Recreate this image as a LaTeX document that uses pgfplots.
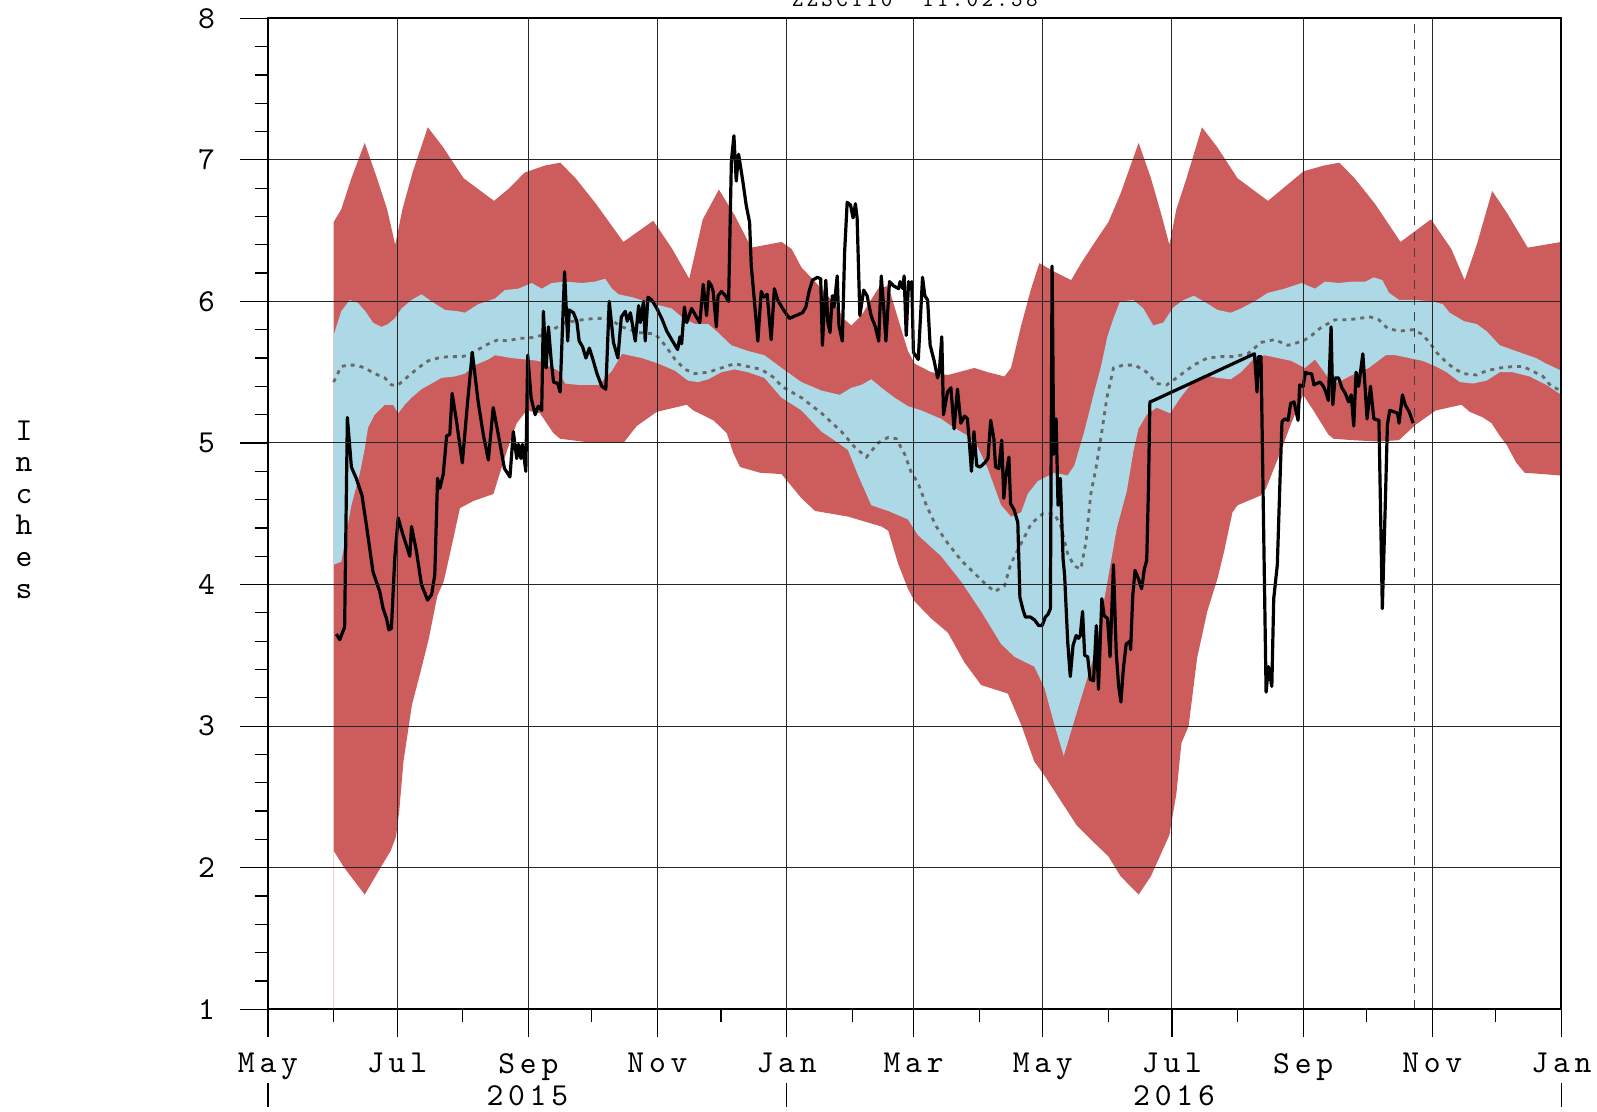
\documentclass[border=0pt]{standalone}
\usepackage{fontspec}
\setmonofont{lmmono10-regular.otf}[LetterSpace=15]
\usepackage{pgfplots}
\pgfplotsset{compat=1.18}
\usepgfplotslibrary{fillbetween}
\definecolor{bandred}{RGB}{205,92,92}
\definecolor{bandblue}{RGB}{173,216,230}
\definecolor{medgray}{RGB}{105,105,105}
\newcommand\tf{\ttfamily\fontsize{16}{15.8}\selectfont}
\begin{document}
\begin{tikzpicture}
\begin{axis}[
  scale only axis, width=646.75pt, height=495.5pt,
  xmin=0, xmax=611, ymin=1, ymax=8, clip=false,
  axis on top,
  xtick={0,61,123,184,245,305,366,427,489,550,611},
  xticklabels={May,Jul,Sep,Nov,Jan,Mar,May,Jul,Sep,Nov,Jan},
  minor xtick={31,92,153,214,276,336,397,458,519,580},
  ytick={1,2,3,4,5,6,7,8},
  minor y tick num=4,
  xmajorgrids, ymajorgrids,
  grid style={black!85, line width=0.5pt},
  tick align=outside, xtick pos=bottom, ytick pos=left,
  major tick length=14pt, minor tick length=6.5pt,
  tick style={black, line width=0.6pt},
  axis line style={black, line width=1pt},
  /pgf/number format/assume math mode=true,
  ticklabel style={font=\tf},
  xticklabel style={yshift=-4.5pt},
  yticklabel style={xshift=-9pt},
]
% red band
\addplot[name path=ru, draw=none] coordinates {
(31,6.56)(34.6,6.65)(39.4,6.87)(45.7,7.12)(51.5,6.87)(56.3,6.65)(60.1,6.40)(63.5,6.65)(68.3,6.91)(75.5,7.23)(82.7,7.09)(92.4,6.87)(106.8,6.71)(114,6.80)(121.2,6.91)(130.9,6.96)(138.1,6.98)(145.3,6.87)(154.9,6.69)(167.9,6.42)(182,6.57)(191,6.37)(199,6.16)(205.4,6.58)(213,6.79)(220.4,6.61)(228.3,6.38)(242.6,6.42)(247.4,6.37)(252,6.24)(258.4,6.14)(266.2,6.01)(272.5,5.87)(275.6,5.83)(280.3,5.90)(288.2,6.09)(293,6.11)(297.6,5.88)(302.3,5.65)(305.5,5.56)(313.3,5.50)(321.2,5.48)(333.7,5.53)(340,5.50)(347.9,5.47)(351,5.53)(355.8,5.83)(360.5,6.09)(364.4,6.27)(371.5,6.21)(379.4,6.15)(384.1,6.27)(392,6.45)(397,6.56)(402.7,6.76)(411.3,7.12)(417.1,6.87)(421.9,6.62)(425.8,6.40)(429.1,6.65)(433.9,6.87)(441.2,7.23)(448.4,7.09)(458,6.87)(472.4,6.71)(479.6,6.80)(489.3,6.92)(498.9,6.96)(506.1,6.98)(513.3,6.87)(522.9,6.69)(535,6.42)(549.4,6.58)(559,6.37)(565.3,6.15)(571,6.40)(578.3,6.78)(585.5,6.62)(595.1,6.38)(611,6.42)};
\addplot[name path=rl, draw=none] coordinates {
(31,2.12)(36,2.00)(45.7,1.81)(52,1.97)(58,2.12)(60.5,2.22)(62,2.40)(64,2.75)(68,3.15)(72,3.38)(76,3.62)(80,3.92)(83,4.02)(86,4.22)(90.7,4.54)(97,4.59)(106.5,4.64)(109.6,4.79)(113,4.95)(117.5,5.14)(122.2,5.23)(128.5,5.21)(134.8,5.07)(138,5.03)(153.7,5.00)(167.9,5.00)(174.2,5.12)(183.7,5.22)(197.8,5.27)(200.9,5.23)(210.4,5.16)(216.7,5.07)(219.8,4.93)(223,4.83)(232.4,4.79)(242.6,4.78)(252,4.61)(258.4,4.52)(274,4.48)(289.8,4.41)(293,4.38)(297.6,4.15)(302.3,3.97)(305.5,3.88)(313.3,3.76)(321.2,3.66)(329,3.45)(336.9,3.29)(349.5,3.23)(355.8,3.01)(362,2.75)(366.8,2.65)(374.6,2.47)(382,2.30)(390,2.18)(397,2.08)(402.7,1.94)(411.3,1.81)(417.1,1.94)(425.8,2.23)(429.1,2.52)(431.5,2.88)(434.9,3.00)(438.9,3.48)(443.7,3.81)(448.5,4.04)(451.6,4.23)(455.6,4.51)(458,4.56)(469.1,4.63)(471.5,4.68)(477.1,4.89)(483.4,5.14)(489,5.34)(493,5.25)(500.9,5.06)(503.3,5.03)(512.1,5.02)(524.8,5.01)(534.3,5.02)(542.2,5.13)(551.7,5.23)(563.8,5.27)(567.7,5.22)(574,5.18)(578,5.14)(581.9,5.05)(585,4.99)(589.7,4.86)(593.6,4.79)(611,4.77)};
\addplot[bandred, draw=none] fill between[of=ru and rl];
% blue band
\addplot[name path=bu, draw=none] coordinates {
(31,5.76)(34.6,5.93)(38.6,6.01)(42.5,5.99)(46.5,5.92)(49.6,5.85)(53.6,5.82)(56.7,5.84)(59.9,5.88)(63.1,5.95)(67.8,6.01)(72.5,6.05)(77.3,6.00)(83.6,5.94)(89.9,5.93)(93,5.92)(99.3,5.98)(107.2,6.02)(111.9,6.08)(118.3,6.09)(124.6,6.13)(129.3,6.09)(134.1,6.13)(140.4,6.14)(148.3,6.13)(154.6,6.14)(159.3,6.16)(162.5,6.09)(165.6,6.05)(171.9,6.03)(182.9,5.98)(190.7,5.95)(196.2,5.88)(201.7,5.84)(208,5.84)(212.6,5.78)(218.9,5.69)(226.7,5.65)(234.5,5.62)(242.6,5.53)(252,5.43)(261.5,5.37)(270.1,5.34)(275.6,5.39)(280.3,5.41)(285,5.45)(289.8,5.39)(296,5.32)(302.3,5.26)(308.6,5.23)(318,5.17)(322.8,5.12)(330.6,5.05)(335.3,4.97)(340,4.82)(346.3,4.56)(351,4.48)(355.8,4.51)(358.9,4.64)(363.6,4.73)(371.5,4.79)(377.7,4.77)(380.9,4.84)(385.6,5.08)(390.3,5.36)(393.5,5.54)(396.5,5.75)(399.4,5.88)(402.5,6.00)(408.8,6.01)(413.5,5.95)(418.2,5.83)(422.9,5.85)(427.8,5.96)(432.6,6.01)(437.3,6.04)(442.1,6.00)(448.5,5.94)(454.8,5.92)(459.6,5.95)(466,6.00)(472.3,6.06)(480.3,6.09)(488.2,6.13)(494.6,6.09)(499.3,6.14)(505.7,6.13)(512.1,6.14)(518.4,6.14)(522.4,6.17)(526.4,6.15)(529.6,6.06)(534.3,6.01)(542.3,6.01)(550.2,6.00)(555,5.98)(558.2,5.92)(565,5.86)(571,5.84)(575.6,5.79)(581.9,5.69)(591.3,5.64)(599,5.60)(603.9,5.56)(611,5.51)};
\addplot[name path=bl, draw=none] coordinates {
(31,4.14)(34.6,4.16)(39.4,4.56)(43.3,4.78)(45.7,4.96)(47.3,5.11)(50.4,5.20)(55.2,5.27)(59.1,5.27)(61.5,5.21)(64.6,5.27)(67.8,5.32)(72.5,5.38)(77.3,5.42)(82,5.46)(88.3,5.47)(93,5.49)(97.8,5.55)(104.1,5.59)(107.2,5.62)(115.1,5.60)(121.4,5.59)(127.7,5.58)(137.2,5.51)(140.4,5.42)(146.7,5.41)(156.2,5.41)(162.5,5.51)(167.3,5.63)(176.6,5.60)(184.5,5.56)(192.3,5.51)(198.5,5.44)(203.2,5.43)(208,5.45)(214.2,5.50)(220.4,5.52)(226.7,5.50)(234.5,5.46)(242.6,5.32)(252,5.23)(261.5,5.08)(269.4,5.00)(274,4.95)(278.8,4.77)(285,4.56)(293,4.52)(302.3,4.46)(307,4.35)(318,4.20)(327.5,4.02)(336.9,3.81)(346.3,3.58)(352.6,3.49)(362,3.42)(366.8,3.27)(371.5,3.01)(375.9,2.79)(380.9,3.04)(385.6,3.27)(390.3,3.50)(396.3,4.00)(401,4.40)(405.7,4.66)(408.8,4.94)(411.2,5.10)(415.1,5.20)(419.8,5.25)(424.5,5.22)(426.2,5.21)(431,5.32)(435.7,5.41)(442.1,5.48)(448.5,5.46)(454.8,5.45)(459.6,5.50)(466,5.60)(470.7,5.62)(477.1,5.60)(483.4,5.58)(489.8,5.53)(494.6,5.59)(499,5.50)(503,5.41)(512.1,5.48)(520,5.53)(528,5.62)(532.7,5.62)(539.1,5.60)(545.5,5.58)(551.8,5.54)(556.8,5.50)(563,5.43)(569.3,5.42)(575.6,5.44)(581.9,5.50)(588,5.50)(596,5.47)(603.9,5.41)(611,5.34)};
\addplot[bandblue, draw=none] fill between[of=bu and bl];
% faint line at start
\addplot[color={rgb,255:red,240;green,205;blue,205}, line width=0.4pt] coordinates {(31,1) (31,2.12)};
% median
\addplot[medgray, line width=1.4pt, dash pattern=on 2pt off 2.5pt] coordinates {
(31,5.43)(34.6,5.54)(37.8,5.55)(41.7,5.55)(45.7,5.53)(50.4,5.49)(55.2,5.46)(58.3,5.41)(61.5,5.41)(66.2,5.47)(70.9,5.53)(75.7,5.58)(80.4,5.60)(85.1,5.61)(91.5,5.61)(94.6,5.62)(99.3,5.66)(104.1,5.70)(108.8,5.73)(113.5,5.72)(118.3,5.74)(123,5.74)(129.3,5.76)(135.6,5.81)(140.4,5.85)(148.3,5.87)(154.6,5.88)(160.9,5.88)(167.2,5.82)(175,5.78)(182.9,5.77)(187.6,5.69)(192.3,5.59)(197,5.52)(201.7,5.49)(208,5.50)(214.2,5.53)(220.4,5.56)(226.7,5.54)(233,5.52)(239.2,5.46)(242.6,5.40)(252,5.32)(261.5,5.21)(270.9,5.08)(277.2,4.97)(282.7,4.90)(288.2,5.00)(293,5.04)(296.8,5.03)(300.8,4.92)(303.9,4.79)(307,4.72)(311,4.56)(315.7,4.41)(321.2,4.29)(327.5,4.17)(333.7,4.08)(338.5,4.01)(343.2,3.95)(347.9,3.99)(351,4.15)(355.8,4.29)(360.5,4.43)(366,4.50)(371.5,4.50)(374.6,4.41)(377.7,4.22)(380.9,4.13)(384,4.11)(386.4,4.30)(388.7,4.64)(391.1,4.82)(393.9,5.08)(396.3,5.32)(399.4,5.53)(404.1,5.55)(409.6,5.55)(415.1,5.50)(419.8,5.42)(424.5,5.41)(429.2,5.46)(437.3,5.55)(443.7,5.60)(450.1,5.61)(456.4,5.61)(462.8,5.63)(469.1,5.71)(475.5,5.73)(481.8,5.69)(489,5.72)(493,5.76)(497.8,5.82)(504.1,5.87)(510.5,5.87)(515.2,5.88)(520.8,5.89)(524.8,5.87)(528.8,5.81)(534.3,5.79)(540.7,5.80)(545,5.77)(548.7,5.71)(552,5.64)(556,5.58)(559.9,5.53)(564.6,5.49)(570.9,5.48)(575.6,5.51)(581.9,5.53)(588,5.54)(592.9,5.54)(598.4,5.50)(602.3,5.47)(606.2,5.40)(611,5.37)};
% observed
\addplot[black, line width=1.6pt, line join=round] coordinates {
(32.3,3.65)(33.9,3.61)(36.2,3.70)(37.5,5.18)(39.4,4.83)(41.7,4.75)(44.4,4.63)(46.5,4.42)(49.6,4.09)(52.8,3.95)(54.4,3.83)(56.0,3.76)(57.1,3.68)(58.3,3.69)(59.9,4.19)(61.5,4.47)(63.8,4.35)(67.0,4.20)(67.8,4.41)(70.2,4.23)(72.5,4.00)(75.4,3.89)(77.3,3.93)(78.8,4.07)(80.1,4.75)(81.2,4.68)(82.8,4.78)(84.4,5.05)(85.9,5.06)(87.0,5.35)(89.1,5.15)(91.8,4.86)(94.3,5.29)(96.5,5.64)(99.3,5.29)(101.7,5.06)(104.1,4.88)(106.4,5.25)(108.8,5.06)(111.7,4.82)(114.3,4.76)(115.9,5.08)(117.5,4.89)(118.3,4.99)(119.5,4.89)(120.2,4.99)(121.8,4.80)(122.7,5.62)(124.3,5.32)(126.2,5.20)(127.7,5.26)(129.3,5.23)(130.1,5.93)(131.4,5.53)(132.5,5.82)(133.8,5.58)(134.9,5.43)(136.9,5.42)(138.0,5.36)(140.1,6.21)(141.6,5.72)(142.3,5.94)(144.3,5.92)(145.9,5.86)(147.0,5.72)(148.6,5.68)(150.2,5.60)(151.8,5.67)(153.3,5.60)(155.4,5.49)(157.7,5.40)(159.6,5.38)(161.2,6.00)(163.2,5.71)(165.3,5.60)(166.9,5.89)(168.8,5.93)(169.7,5.86)(171.2,5.92)(173.5,5.72)(175.1,5.97)(175.9,5.85)(177.4,6.00)(178.2,5.72)(179.5,6.03)(181.3,6.01)(183.7,5.95)(186.0,5.88)(188.4,5.79)(190.7,5.73)(193.5,5.66)(194.6,5.75)(195.4,5.70)(196.7,5.96)(197.8,5.85)(200.1,5.95)(202.0,5.90)(204.0,5.85)(205.6,6.12)(207.2,5.90)(208.2,6.14)(209.5,6.11)(210.3,6.07)(211.8,5.82)(212.6,6.04)(214.2,6.07)(216.1,6.04)(217.6,6.00)(218.9,6.99)(220.1,7.17)(221.2,6.85)(222.3,7.04)(224.3,6.85)(225.9,6.68)(227.5,6.56)(228.3,6.25)(229.8,6.00)(231.4,5.72)(233.0,6.07)(234.2,6.03)(235.8,6.05)(237.7,5.73)(239.2,6.09)(240.8,6.01)(243.1,5.95)(246.3,5.88)(249.4,5.90)(252.5,5.92)(254.1,5.96)(255.6,6.07)(257.2,6.15)(259.5,6.17)(261.1,6.16)(261.9,5.69)(263.5,6.15)(264.5,5.85)(265.5,5.78)(266.6,6.04)(267.4,5.96)(268.9,6.18)(269.7,5.83)(271.3,5.72)(272.4,6.35)(273.6,6.70)(275.2,6.68)(276.4,6.59)(277.5,6.69)(278.3,6.59)(279.6,5.90)(281.4,6.08)(283.0,6.04)(284.9,5.90)(286.9,5.82)(288.5,5.72)(289.7,6.18)(290.8,5.97)(291.9,5.72)(293.6,6.14)(295.5,6.11)(297.9,6.09)(298.6,6.14)(299.9,6.09)(300.5,6.18)(301.5,5.76)(302.6,6.14)(303.3,6.09)(304.1,6.14)(304.9,5.64)(307.2,5.59)(309.2,6.17)(310.3,6.04)(311.6,6.01)(312.8,5.69)(314.7,5.58)(316.3,5.46)(317.1,5.50)(318.3,5.75)(319.1,5.20)(321.0,5.36)(322.6,5.39)(324.1,5.10)(325.7,5.38)(327.3,5.14)(329.1,5.19)(330.4,5.17)(331.2,5.03)(332.3,4.80)(333.5,5.08)(334.8,4.84)(336.4,4.83)(338.6,4.86)(340.1,4.89)(341.4,5.16)(342.9,5.03)(343.7,4.83)(345.3,4.82)(346.6,5.02)(347.6,4.61)(348.4,4.75)(350.0,4.90)(350.8,4.57)(352.4,4.53)(354.2,4.44)(355.2,3.91)(356.7,3.82)(357.8,3.77)(360.2,3.77)(362.1,3.75)(364.1,3.71)(365.7,3.71)(367.2,3.77)(368.5,3.79)(369.6,3.83)(370.4,6.25)(371.2,4.92)(372.3,5.17)(373.2,4.56)(374.3,4.75)(375.6,4.18)(376.3,4.07)(377.8,3.59)(379.0,3.35)(380.3,3.57)(381.8,3.64)(382.9,3.62)(383.7,3.64)(384.8,3.81)(385.8,3.50)(387.2,3.49)(388.4,3.33)(390.0,3.32)(391.3,3.71)(392.3,3.26)(393.9,3.90)(395.0,3.78)(396.6,3.76)(397.8,3.49)(399.4,4.14)(400.7,3.52)(401.8,3.29)(402.9,3.17)(404.1,3.41)(405.4,3.58)(407.2,3.60)(407.5,3.54)(408.5,3.92)(409.6,4.10)(411.2,4.04)(412.7,3.97)(414.0,4.11)(415.1,4.17)(415.9,4.66)(416.6,5.29)(418.3,5.30)(466.0,5.63)(467.2,5.36)(467.9,5.61)(469.1,5.61)(471.5,3.24)(472.6,3.42)(474.2,3.28)(475.1,3.90)(476.8,4.14)(477.9,4.66)(479.0,5.15)(480.3,5.17)(481.9,5.16)(483.1,5.28)(484.7,5.29)(486.6,5.16)(487.4,5.41)(489.0,5.40)(490.1,5.50)(491.4,5.49)(493.0,5.49)(494.1,5.41)(495.4,5.42)(497.0,5.43)(498.6,5.40)(499.7,5.36)(500.9,5.30)(502.2,5.82)(503.0,5.27)(504.1,5.46)(505.7,5.46)(507.3,5.39)(508.9,5.35)(510.5,5.29)(511.7,5.34)(512.9,5.12)(514.0,5.50)(515.2,5.40)(517.2,5.63)(518.4,5.36)(519.2,5.17)(520.8,5.40)(522.4,5.17)(524.8,5.16)(526.4,3.83)(527.7,4.51)(528.8,5.13)(529.9,5.23)(532.0,5.22)(533.6,5.21)(534.3,5.14)(535.9,5.34)(537.2,5.27)(539.1,5.22)(541.0,5.14)};
% current-date marker
\addplot[black!75, line width=0.6pt, dash pattern=on 4.5pt off 3.5pt] coordinates {(541.5,1) (541.5,8)};
\coordinate (bl) at (axis cs:0,1);
\coordinate (tr) at (axis cs:611,8);
% year labels and separators
\node[font=\tf, anchor=base] at ([yshift=-48pt]axis cs:122.5,1) {2015};
\node[font=\tf, anchor=base] at ([yshift=-48pt]axis cs:428,1) {2016};
\draw[black, line width=0.8pt] ([yshift=-37pt]axis cs:0,1) -- ([yshift=-49pt]axis cs:0,1);
\draw[black, line width=0.8pt] ([yshift=-37pt]axis cs:245,1) -- ([yshift=-49pt]axis cs:245,1);
\draw[black, line width=0.8pt] ([yshift=-37pt]axis cs:611,1) -- ([yshift=-49pt]axis cs:611,1);
% y label
\node[font=\tf, align=center, inner sep=0pt] at ([xshift=-122pt]axis cs:0,4.53) {I\\n\\c\\h\\e\\s};
% title (cut off at top as in the original)
\node[font=\ttfamily\fontsize{11}{11}\selectfont, anchor=base] at ([yshift=6pt]axis cs:305.5,8) {ZZSC110\ \ 11:02:58};
\end{axis}
\pgfresetboundingbox
\path[use as bounding box] ([xshift=-134pt,yshift=-51.35pt]bl) rectangle ([xshift=17.8pt,yshift=9.15pt]tr);
\end{tikzpicture}
\end{document}
